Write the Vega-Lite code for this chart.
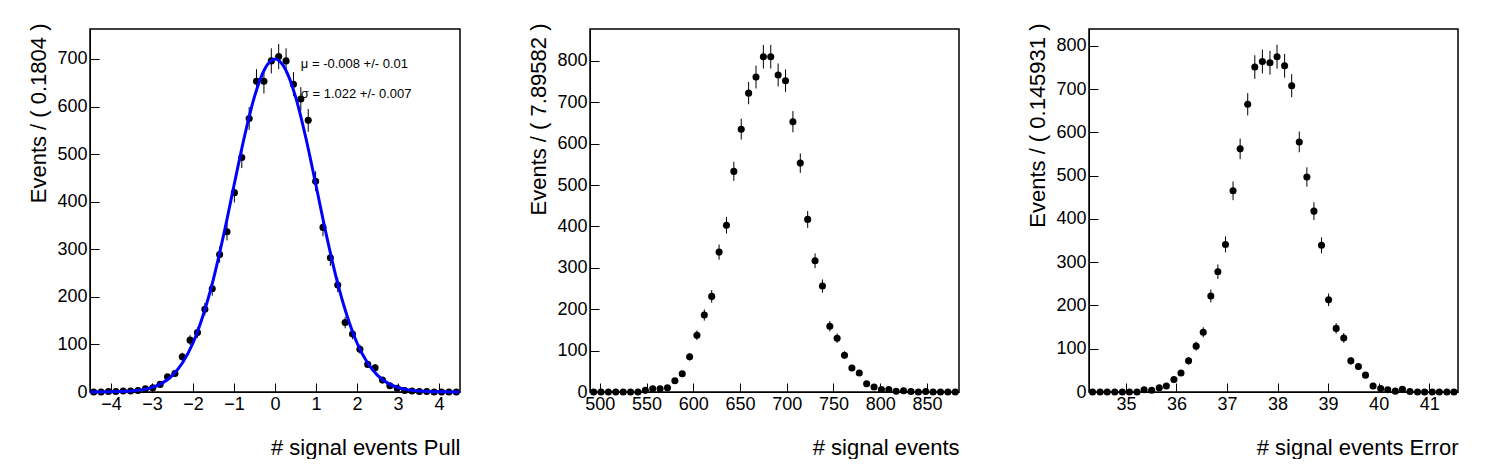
{
"$schema":"https://vega.github.io/schema/vega-lite/v6.json",
"padding":{"left":26,"top":22,"right":0,"bottom":0},
"background":"white",
"bounds":"flush","spacing":130,
"config":{"font":"Liberation Sans","view":{"stroke":"black","strokeWidth":1.5},
"axis":{"grid":false,"domainColor":"black","tickColor":"black","tickSize":-9,"labelFontSize":18,"labelColor":"black","titleFontSize":22,"titleFontWeight":"normal","titleColor":"black","labelPadding":12,"titleAnchor":"end"},
"axisY":{"titleAngle":-90,"titleX":-52,"titleY":-6,"titleAlign":"right","titleBaseline":"middle"},
"axisX":{"titleY":62,"titleBaseline":"alphabetic","labelPadding":12}},
"datasets":{
"p1":[{"x":-4.42,"y":0,"e":0},{"x":-4.24,"y":0,"e":0},{"x":-4.06,"y":1,"e":1},{"x":-3.88,"y":1,"e":1},{"x":-3.70,"y":2,"e":1.4},{"x":-3.52,"y":2,"e":1.4},{"x":-3.34,"y":3,"e":1.7},{"x":-3.16,"y":7,"e":2.6},{"x":-2.98,"y":9,"e":3},{"x":-2.80,"y":16,"e":4},{"x":-2.62,"y":32,"e":5.7},{"x":-2.44,"y":39,"e":6.2},{"x":-2.26,"y":74,"e":8.6},{"x":-2.07,"y":109,"e":10.4},{"x":-1.89,"y":125,"e":11.2},{"x":-1.71,"y":174,"e":13.2},{"x":-1.53,"y":217,"e":14.7},{"x":-1.35,"y":289,"e":17},{"x":-1.17,"y":337,"e":18.4},{"x":-0.99,"y":419,"e":20.5},{"x":-0.81,"y":493,"e":22.2},{"x":-0.63,"y":575,"e":24},{"x":-0.45,"y":653,"e":25.6},{"x":-0.27,"y":653,"e":25.6},{"x":-0.09,"y":696,"e":26.4},{"x":0.09,"y":705,"e":26.6},{"x":0.27,"y":696,"e":26.4},{"x":0.45,"y":647,"e":25.4},{"x":0.63,"y":616,"e":24.8},{"x":0.81,"y":571,"e":23.9},{"x":0.99,"y":443,"e":21},{"x":1.17,"y":346,"e":18.6},{"x":1.35,"y":282,"e":16.8},{"x":1.53,"y":225,"e":15},{"x":1.71,"y":146,"e":12.1},{"x":1.89,"y":122,"e":11},{"x":2.07,"y":90,"e":9.5},{"x":2.26,"y":58,"e":7.6},{"x":2.44,"y":51,"e":7.1},{"x":2.62,"y":25,"e":5},{"x":2.80,"y":13,"e":3.6},{"x":2.98,"y":8,"e":2.8},{"x":3.16,"y":3,"e":1.7},{"x":3.34,"y":2,"e":1.4},{"x":3.52,"y":1,"e":1},{"x":3.70,"y":1,"e":1},{"x":3.88,"y":0,"e":0},{"x":4.06,"y":0,"e":0},{"x":4.24,"y":0,"e":0},{"x":4.42,"y":0,"e":0}],
"curve":[{"x":-4.5,"y":0},{"x":-4.0,"y":0.3},{"x":-3.75,"y":0.8},{"x":-3.5,"y":2},{"x":-3.25,"y":4.5},{"x":-3.0,"y":9.4},{"x":-2.75,"y":18.7},{"x":-2.5,"y":35},{"x":-2.25,"y":62},{"x":-2.0,"y":103},{"x":-1.75,"y":162},{"x":-1.5,"y":238},{"x":-1.25,"y":331},{"x":-1.0,"y":434},{"x":-0.75,"y":535},{"x":-0.5,"y":621},{"x":-0.25,"y":679},{"x":0,"y":700},{"x":0.25,"y":679},{"x":0.5,"y":621},{"x":0.75,"y":535},{"x":1.0,"y":434},{"x":1.25,"y":331},{"x":1.5,"y":238},{"x":1.75,"y":162},{"x":2.0,"y":103},{"x":2.25,"y":62},{"x":2.5,"y":35},{"x":2.75,"y":18.7},{"x":3.0,"y":9.4},{"x":3.25,"y":4.5},{"x":3.5,"y":2},{"x":3.75,"y":0.8},{"x":4.0,"y":0.3},{"x":4.5,"y":0}],
"stats":[{"x":0.63,"y":689,"t":"μ = -0.008 +/- 0.01"},{"x":0.63,"y":626,"t":"σ =  1.022 +/- 0.007"}],
"p2":[{"x":493.4,"y":0,"e":0},{"x":501.3,"y":0,"e":0},{"x":509.2,"y":0,"e":0},{"x":517.1,"y":0,"e":0},{"x":525.0,"y":0,"e":0},{"x":532.9,"y":0,"e":0},{"x":540.8,"y":0,"e":0},{"x":548.7,"y":4,"e":2},{"x":556.6,"y":8,"e":2.8},{"x":564.5,"y":8,"e":2.8},{"x":572.4,"y":10,"e":3.2},{"x":580.3,"y":27,"e":5.2},{"x":588.2,"y":44,"e":6.6},{"x":596.1,"y":85,"e":9.2},{"x":603.9,"y":137,"e":11.7},{"x":611.8,"y":186,"e":13.6},{"x":619.7,"y":231,"e":15.2},{"x":627.6,"y":338,"e":18.4},{"x":635.5,"y":403,"e":20.1},{"x":643.4,"y":533,"e":23.1},{"x":651.3,"y":635,"e":25.2},{"x":659.2,"y":722,"e":26.9},{"x":667.1,"y":761,"e":27.6},{"x":675.0,"y":810,"e":28.5},{"x":682.9,"y":810,"e":28.5},{"x":690.8,"y":766,"e":27.7},{"x":698.7,"y":752,"e":27.4},{"x":706.6,"y":653,"e":25.6},{"x":714.5,"y":553,"e":23.5},{"x":722.4,"y":417,"e":20.4},{"x":730.3,"y":317,"e":17.8},{"x":738.2,"y":256,"e":16},{"x":746.1,"y":159,"e":12.6},{"x":753.9,"y":130,"e":11.4},{"x":761.8,"y":89,"e":9.4},{"x":769.7,"y":58,"e":7.6},{"x":777.6,"y":46,"e":6.8},{"x":785.5,"y":20,"e":4.5},{"x":793.4,"y":12,"e":3.5},{"x":801.3,"y":6,"e":2.4},{"x":809.2,"y":6,"e":2.4},{"x":817.1,"y":2,"e":1.4},{"x":825.0,"y":3,"e":1.7},{"x":832.9,"y":1,"e":1},{"x":840.8,"y":0,"e":0},{"x":848.7,"y":1,"e":1},{"x":856.6,"y":0,"e":0},{"x":864.5,"y":0,"e":0},{"x":872.4,"y":0,"e":0},{"x":880.3,"y":0,"e":0}],
"p3":[{"x":34.34,"y":0,"e":0},{"x":34.49,"y":0,"e":0},{"x":34.63,"y":0,"e":0},{"x":34.78,"y":0,"e":0},{"x":34.93,"y":0,"e":0},{"x":35.07,"y":0,"e":0},{"x":35.22,"y":0,"e":0},{"x":35.36,"y":5,"e":2.2},{"x":35.51,"y":4,"e":2},{"x":35.66,"y":10,"e":3.2},{"x":35.80,"y":14,"e":3.7},{"x":35.95,"y":29,"e":5.4},{"x":36.09,"y":44,"e":6.6},{"x":36.24,"y":72,"e":8.5},{"x":36.39,"y":106,"e":10.3},{"x":36.53,"y":138,"e":11.7},{"x":36.68,"y":222,"e":14.9},{"x":36.82,"y":278,"e":16.7},{"x":36.97,"y":341,"e":18.5},{"x":37.12,"y":465,"e":21.6},{"x":37.26,"y":562,"e":23.7},{"x":37.41,"y":665,"e":25.8},{"x":37.55,"y":751,"e":27.4},{"x":37.70,"y":764,"e":27.6},{"x":37.85,"y":761,"e":27.6},{"x":37.99,"y":775,"e":27.8},{"x":38.14,"y":754,"e":27.5},{"x":38.28,"y":708,"e":26.6},{"x":38.43,"y":578,"e":24},{"x":38.58,"y":497,"e":22.3},{"x":38.72,"y":418,"e":20.4},{"x":38.87,"y":339,"e":18.4},{"x":39.01,"y":213,"e":14.6},{"x":39.16,"y":147,"e":12.1},{"x":39.31,"y":125,"e":11.2},{"x":39.45,"y":72,"e":8.5},{"x":39.60,"y":59,"e":7.7},{"x":39.74,"y":39,"e":6.2},{"x":39.89,"y":14,"e":3.7},{"x":40.04,"y":8,"e":2.8},{"x":40.18,"y":5,"e":2.2},{"x":40.33,"y":2,"e":1.4},{"x":40.47,"y":6,"e":2.4},{"x":40.62,"y":1,"e":1},{"x":40.77,"y":0,"e":0},{"x":40.91,"y":0,"e":0},{"x":41.06,"y":0,"e":0},{"x":41.20,"y":0,"e":0},{"x":41.35,"y":0,"e":0},{"x":41.49,"y":0,"e":0}]
},
"hconcat":[
{"width":370,"height":363,
"layer":[
{"data":{"name":"p1"},"mark":{"type":"errorbar","color":"black","thickness":1},"encoding":{"x":{"field":"x","type":"quantitative","scale":{"domain":[-4.51,4.51],"nice":false,"zero":false},"axis":{"values":[-4,-3,-2,-1,0,1,2,3,4],"title":"# signal events Pull"}},"y":{"field":"y","type":"quantitative","scale":{"domain":[0,763],"nice":false},"axis":{"values":[0,100,200,300,400,500,600,700],"title":"Events / ( 0.1804 )"}},"yError":{"field":"e"}}},
{"data":{"name":"p1"},"mark":{"type":"point","filled":true,"color":"black","opacity":1,"size":50},"encoding":{"x":{"field":"x","type":"quantitative"},"y":{"field":"y","type":"quantitative"}}},
{"data":{"name":"curve"},"mark":{"type":"line","color":"#0000ff","strokeWidth":3,"interpolate":"monotone"},"encoding":{"x":{"field":"x","type":"quantitative"},"y":{"field":"y","type":"quantitative"}}},
{"data":{"name":"stats"},"mark":{"type":"text","align":"left","baseline":"middle","fontSize":13,"color":"black"},"encoding":{"x":{"field":"x","type":"quantitative"},"y":{"field":"y","type":"quantitative"},"text":{"field":"t"}}}
]},
{"width":369,"height":363,
"layer":[
{"data":{"name":"p2"},"mark":{"type":"errorbar","color":"black","thickness":1},"encoding":{"x":{"field":"x","type":"quantitative","scale":{"domain":[489.5,884.3],"nice":false,"zero":false},"axis":{"values":[500,550,600,650,700,750,800,850],"title":"# signal events"}},"y":{"field":"y","type":"quantitative","scale":{"domain":[0,877],"nice":false},"axis":{"values":[0,100,200,300,400,500,600,700,800],"title":"Events / ( 7.89582 )"}},"yError":{"field":"e"}}},
{"data":{"name":"p2"},"mark":{"type":"point","filled":true,"color":"black","opacity":1,"size":50},"encoding":{"x":{"field":"x","type":"quantitative"},"y":{"field":"y","type":"quantitative"}}}
]},
{"width":369,"height":363,
"layer":[
{"data":{"name":"p3"},"mark":{"type":"errorbar","color":"black","thickness":1},"encoding":{"x":{"field":"x","type":"quantitative","scale":{"domain":[34.27,41.57],"nice":false,"zero":false},"axis":{"values":[35,36,37,38,39,40,41],"title":"# signal events Error"}},"y":{"field":"y","type":"quantitative","scale":{"domain":[0,839],"nice":false},"axis":{"values":[0,100,200,300,400,500,600,700,800],"title":"Events / ( 0.145931 )"}},"yError":{"field":"e"}}},
{"data":{"name":"p3"},"mark":{"type":"point","filled":true,"color":"black","opacity":1,"size":50},"encoding":{"x":{"field":"x","type":"quantitative"},"y":{"field":"y","type":"quantitative"}}}
]}
]}
